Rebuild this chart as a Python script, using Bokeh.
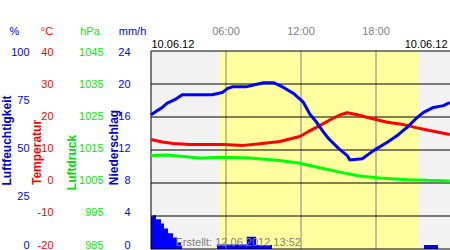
import math
from bokeh.plotting import figure
from bokeh.models import Range1d, Label, BoxAnnotation
from bokeh.core.properties import value
from bokeh.embed import file_html
from bokeh.resources import INLINE

# ---------------- data ----------------
hum_t = [0.0, 0.4, 0.9, 1.3, 1.9, 2.5, 4.9, 5.7, 6.1, 6.5, 7.6, 8.2, 9.0, 9.8, 10.6,
         11.4, 12.2, 12.7, 13.25, 13.8, 14.2, 15.0, 15.7, 15.9, 16.9, 17.8, 18.9,
         19.7, 20.2, 20.5, 21.3, 21.8, 22.6, 23.4, 23.9]
hum_v = [67.8, 69.5, 71.5, 73.7, 75.4, 77.9, 77.9, 79.0, 81.0, 81.9, 81.9, 82.8, 84.0,
         84.0, 81.6, 78.6, 74.0, 68.2, 64.0, 59.0, 55.8, 50.8, 47.2, 45.0, 45.6, 49.7,
         53.9, 57.3, 60.0, 61.5, 66.5, 69.0, 71.5, 72.4, 74.0]

temp_t = [0.0, 0.9, 1.8, 3.1, 5.8, 7.4, 8.7, 10.3, 11.9, 12.5, 13.5, 14.3, 15.1, 15.7,
          16.5, 17.5, 18.9, 20.2, 21.3, 22.3, 23.9]
temp_v = [13.2, 12.4, 12.0, 11.7, 11.7, 11.4, 11.9, 12.6, 14.1, 15.4, 17.4, 19.1, 20.6,
          21.3, 20.7, 19.7, 18.4, 17.7, 16.7, 15.9, 14.7]

pres_t = [0.0, 1.3, 3.9, 5.8, 7.9, 10.3, 11.9, 13.5, 15.1, 16.7, 18.3, 20.5, 22.1, 23.9]
pres_v = [1013.3, 1013.5, 1012.6, 1012.8, 1012.6, 1011.8, 1011.0, 1009.6, 1008.3,
          1007.1, 1006.5, 1006.0, 1005.8, 1005.6]

prec_from = [0.0, 0.16, 0.4, 0.8, 1.04, 1.36, 1.76, 2.08, 2.4, 5.28, 7.66, 8.4, 21.84]
prec_to = [0.16, 0.4, 0.8, 1.04, 1.36, 1.76, 2.08, 2.4, 2.48, 7.66, 8.4, 9.68, 22.96]
prec_v = [3.95, 4.1, 3.6, 3.1, 2.5, 1.9, 1.4, 0.8, 0.35, 0.55, 1.5, 0.5, 0.5]

day = [0, 24]              # hours shown
sun_times = [5.5, 21.42]   # sunrise, sunset (hours)

hour_ticks = [6, 12, 18]
hour_labels = ["06:00", "12:00", "18:00"]
hum_ticks = [0, 25, 50, 75, 100]
temp_ticks = [-20, -10, 0, 10, 20, 30, 40]
pres_ticks = [985, 995, 1005, 1015, 1025, 1035, 1045]
prec_ticks = [0, 4, 8, 12, 16, 20, 24]
hum_lim = [0, 100]
temp_lim = [-20, 40]
pres_lim = [985, 1045]
prec_lim = [0, 24]
units = ["%", "°C", "hPa", "mm/h"]
titles = ["Luftfeuchtigkeit", "Temperatur", "Luftdruck", "Niederschlag"]
date_label = "10.06.12"
created_label = "Erstellt: 12.06.2012 13:52"

# ---------------- layout / style ----------------
W, H = 450, 250
X0, X1 = 150.5, 450.5          # pixel position of 0h and 24h
TOP, BOT = 50.5, 248.5         # pixel rows of upper / lower limit
LTOP, LBOT = 51, 244           # pixel rows of upper / lower tick label
FONT = "Liberation Sans"
FS = "11px"
BLUE = "#0000ff"
DBLUE = "#0000cc"
RED = "#ff0000"
GREEN = "#00ee00"
GRAY = "#808080"


def yr(lim, top, bot):
    lo, hi = lim
    s = (bot - top) / (hi - lo)
    return Range1d(lo - (H - bot) / s, hi + top / s)


s_x = (X1 - X0) / (day[1] - day[0])
p = figure(width=W, height=H,
           x_range=Range1d(day[0] - X0 / s_x, day[0] + (W - X0) / s_x),
           y_range=yr(temp_lim, TOP, BOT),
           x_axis_location=None, y_axis_location=None, toolbar_location=None,
           output_backend="svg", min_border=0)
p.min_border_left = p.min_border_right = p.min_border_top = p.min_border_bottom = 0
p.outline_line_color = None
p.background_fill_color = "white"
p.border_fill_color = "white"
p.xgrid.visible = False
p.ygrid.visible = False

p.extra_y_ranges = {
    "hum": yr(hum_lim, TOP, BOT),
    "pres": yr(pres_lim, TOP, BOT),
    "prec": yr(prec_lim, TOP, BOT),
    "l_hum": yr(hum_lim, LTOP, LBOT),
    "l_temp": yr(temp_lim, LTOP, LBOT),
    "l_pres": yr(pres_lim, LTOP, LBOT),
    "l_prec": yr(prec_lim, LTOP, LBOT),
    "py": Range1d(H, 0),
}
p.extra_x_ranges = {"px": Range1d(0, W)}

# plot area background and daylight band
p.add_layout(BoxAnnotation(left=day[0], right=day[1], bottom=temp_lim[0], top=temp_lim[1],
                           fill_color="#f2f2f2", fill_alpha=1, line_color=None, level="image"))
p.add_layout(BoxAnnotation(left=sun_times[0], right=sun_times[1], bottom=temp_lim[0],
                           top=temp_lim[1], fill_color="#ffffa0", fill_alpha=1,
                           line_color=None, level="image"))

# precipitation bars
p.quad(left=prec_from, right=prec_to, bottom=prec_lim[0], top=prec_v, y_range_name="prec",
       fill_color=BLUE, line_color=None)

# grid lines and frame
n_h = len(hour_ticks)
p.segment(x0=hour_ticks, x1=hour_ticks, y0=[temp_lim[0]] * n_h, y1=[temp_lim[1]] * n_h,
          line_color=GRAY, line_width=1)
n_t = len(temp_ticks)
p.segment(x0=[day[0]] * n_t, x1=[day[1]] * n_t, y0=temp_ticks, y1=temp_ticks,
          line_color="black", line_width=1)
p.segment(x0=[day[0]], x1=[day[0]], y0=[temp_lim[0]], y1=[temp_lim[1]],
          line_color="black", line_width=1)

# series
p.line(pres_t, pres_v, y_range_name="pres", line_color="#00ff00", line_width=3)
p.line(temp_t, temp_v, line_color=RED, line_width=3)
p.line(hum_t, hum_v, y_range_name="hum", line_color=BLUE, line_width=3)


# tick label columns (right edge pixel, range)
def col(xr, ticks, rng, color):
    p.text(x=[xr] * len(ticks), y=ticks, text=[str(t) for t in ticks],
           x_range_name="px", y_range_name=rng, text_align="right",
           text_baseline="middle", text_font=value(FONT), text_font_size=value(FS),
           text_color=color)


col(29, hum_ticks, "l_hum", BLUE)
col(53, temp_ticks, "l_temp", RED)
col(103, pres_ticks, "l_pres", GREEN)
col(130, prec_ticks, "l_prec", BLUE)

# time labels
p.text(x=hour_ticks, y=[30] * n_h, text=hour_labels, y_range_name="py",
       text_align="center", text_baseline="middle", text_font=value(FONT),
       text_font_size=value(FS), text_color=GRAY)

# units row
p.text(x=[14, 46.5, 89.5, 132], y=[30] * 4, text=units, x_range_name="px",
       y_range_name="py", text_align="center", text_baseline="middle",
       text_font=value(FONT), text_font_size=value(FS),
       text_color=[BLUE, RED, GREEN, BLUE])

# axis titles (rotated)
p.text(x=[6, 36, 71, 113], y=[140, 152, 162, 147], text=titles, x_range_name="px",
       y_range_name="py", angle=math.pi / 2, text_align="center", text_baseline="middle",
       text_font=value(FONT), text_font_size=value("12px"), text_font_style="bold",
       text_color=[DBLUE, RED, "#00dd00", DBLUE])

# dates and creation stamp
p.text(x=[151, 447], y=[43, 43], text=[date_label, date_label], x_range_name="px",
       y_range_name="py", text_align=["left", "right"], text_baseline="middle",
       text_font=value(FONT), text_font_size=value(FS), text_color="black")
p.text(x=[175], y=[241], text=[created_label], x_range_name="px", y_range_name="py",
       text_align="left", text_baseline="middle", text_font=value(FONT),
       text_font_size=value(FS), text_color=GRAY)

open("out.html", "w").write(file_html(p, INLINE))
